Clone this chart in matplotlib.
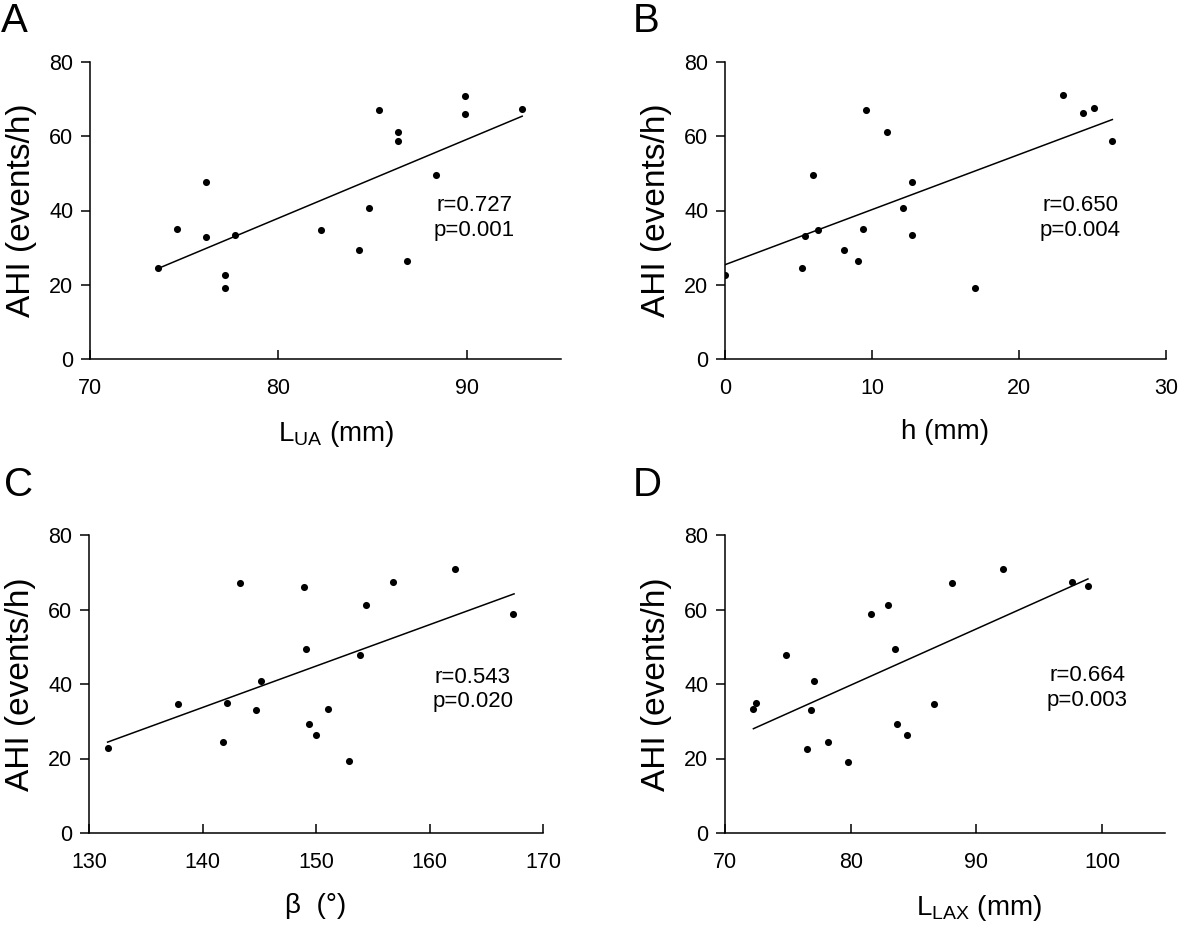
import numpy as np
import matplotlib
matplotlib.use("Agg")
import matplotlib.pyplot as plt

plt.rcParams['font.family'] = ['Liberation Sans', 'DejaVu Sans']
plt.rcParams['mathtext.fontset'] = 'custom'
plt.rcParams['mathtext.rm'] = 'Liberation Sans'
plt.rcParams['mathtext.it'] = 'Liberation Sans:italic'

# AHI values (events/h) per panel
lua_x = [73.63, 74.64, 76.14, 76.14, 77.17, 77.17, 77.68, 82.25, 84.30, 84.81,
         85.33, 86.34, 86.34, 86.85, 88.37, 89.91, 89.91, 92.94]
lua_y = [24.5, 34.9, 47.8, 32.9, 22.6, 19.1, 33.3, 34.7, 29.4, 40.8,
         67.1, 61.1, 58.7, 26.4, 49.6, 70.9, 66.1, 67.3]

h_x = [0.0, 5.24, 5.46, 5.96, 6.35, 8.07, 9.02, 9.39, 9.57, 11.02,
       12.13, 12.72, 12.72, 17.03, 23.02, 24.38, 25.08, 26.35]
h_y = [22.7, 24.5, 33.0, 49.6, 34.8, 29.4, 26.4, 35.0, 67.2, 61.2,
       40.8, 47.8, 33.4, 19.2, 71.0, 66.2, 67.5, 58.8]

beta_x = [131.64, 137.84, 141.81, 142.16, 143.27, 144.71, 145.18, 148.97, 149.15, 149.35,
          150.0, 151.06, 152.91, 153.91, 154.44, 156.79, 162.28, 167.39]
beta_y = [22.7, 34.7, 24.5, 34.9, 67.1, 33.0, 40.7, 66.0, 49.5, 29.3,
          26.3, 33.2, 19.2, 47.7, 61.1, 67.3, 70.9, 58.7]

llax_x = [72.26, 72.47, 74.84, 76.55, 76.82, 77.11, 78.21, 79.76, 81.61, 82.97,
          83.55, 83.71, 84.47, 86.63, 88.03, 92.1, 97.58, 98.87]
llax_y = [33.2, 34.9, 47.8, 22.6, 32.9, 40.7, 24.4, 19.1, 58.75, 61.2,
          49.5, 29.3, 26.25, 34.6, 67.1, 70.9, 67.3, 66.2]

# regression line end points
lua_line = ([73.81, 92.94], [24.8, 65.4])
h_line = ([0.0, 26.35], [25.4, 64.5])
beta_line = ([131.64, 167.45], [24.4, 64.2])
llax_line = ([72.26, 98.87], [28.0, 68.2])

panels = [
    dict(letter="A", x=lua_x, y=lua_y, line=lua_line, xlim=(70, 95), xticks=[70, 80, 90],
         xlabel=r"L$_{\mathrm{UA}}$ (mm)", stats="r=0.727\np=0.001", spos=(90.4, 38.0),
         rect=[90, 62, 561, 359], letpos=(1, 32), lx=0.522),
    dict(letter="B", x=h_x, y=h_y, line=h_line, xlim=(0, 30), xticks=[0, 10, 20, 30],
         xlabel="h (mm)", stats="r=0.650\np=0.004", spos=(24.15, 38.0),
         rect=[725, 62, 1166, 359], letpos=(633, 32), lx=0.5),
    dict(letter="C", x=beta_x, y=beta_y, line=beta_line, xlim=(130, 170), xticks=[130, 140, 150, 160, 170],
         xlabel="β  (°)", stats="r=0.543\np=0.020", spos=(163.8, 38.5),
         rect=[89, 535, 543, 833], letpos=(4, 496), lx=0.5),
    dict(letter="D", x=llax_x, y=llax_y, line=llax_line, xlim=(70, 105), xticks=[70, 80, 90, 100],
         xlabel=r"L$_{\mathrm{LAX}}$ (mm)", stats="r=0.664\np=0.003", spos=(98.8, 38.9),
         rect=[725, 535, 1165, 833], letpos=(633, 496), lx=0.577),
]

W, H = 1181, 927
fig = plt.figure(figsize=(W / 100, H / 100), dpi=100)

for p in panels:
    l, t, r, b = p["rect"]
    ax = fig.add_axes([l / W, 1 - b / H, (r - l) / W, (b - t) / H])
    ax.scatter(p["x"], p["y"], s=26, color="black", zorder=3, linewidths=0)
    ax.plot(p["line"][0], p["line"][1], color="black", lw=1.1)
    ax.set_xlim(*p["xlim"])
    ax.set_ylim(0, 80)
    ax.set_xticks(p["xticks"])
    ax.set_yticks([0, 20, 40, 60, 80])
    for s in ["top", "right"]:
        ax.spines[s].set_visible(False)
    for s in ["left", "bottom"]:
        ax.spines[s].set_linewidth(1.1)
    ax.tick_params(axis="x", direction="in", length=6.5, width=1.1, pad=14, labelsize=15.5)
    ax.tick_params(axis="y", direction="out", length=6.5, width=1.1, pad=5.5, labelsize=15.5)
    ax.set_xlabel(p["xlabel"], fontsize=20, labelpad=14)
    ax.xaxis.label.set_x(p["lx"])
    ax.set_ylabel("AHI (events/h)", fontsize=24, labelpad=9)
    ax.text(p["spos"][0], p["spos"][1], p["stats"], fontsize=16, ha="center", va="center",
            multialignment="center", linespacing=1.2)
    fig.text(p["letpos"][0] / W, 1 - p["letpos"][1] / H, p["letter"], fontsize=29,
             ha="left", va="baseline")

fig.savefig("out.png", dpi=100)
